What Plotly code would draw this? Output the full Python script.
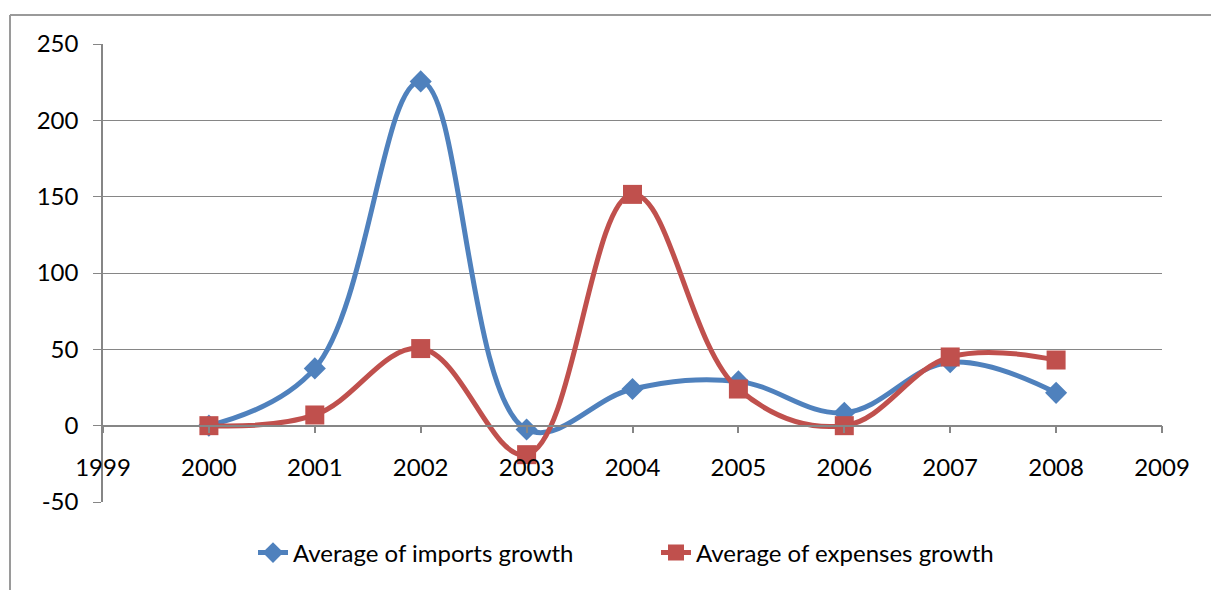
import plotly.graph_objects as go

# Yearly averages of growth
years = [2000, 2001, 2002, 2003, 2004, 2005, 2006, 2007, 2008]
imports_growth = [0, 37.5, 225.5, -2.5, 24, 29, 8.5, 41.5, 21.5]
expenses_growth = [0, 7, 50.5, -19, 151.5, 24, 0, 45, 43]

y_ticks = [-50, 0, 50, 100, 150, 200, 250]
y_tick_text = ["-50", "0", "50", "100", "150", "200", "250"]
x_ticks = list(range(1999, 2010))

BLUE = "#4F81BD"
RED = "#C0504D"
GRID = "#868686"
FONT = "Lato"
FSIZE = 24

fig = go.Figure()
fig.add_trace(go.Scatter(
    x=years, y=imports_growth, name="Average of imports growth",
    mode="lines+markers",
    line=dict(color=BLUE, width=5, shape="spline", smoothing=1.1),
    marker=dict(symbol="diamond", size=17, color=BLUE),
))
fig.add_trace(go.Scatter(
    x=years, y=expenses_growth, name="Average of expenses growth",
    mode="lines+markers",
    line=dict(color=RED, width=5, shape="spline", smoothing=1.1),
    marker=dict(symbol="square", size=19, color=RED),
))

W, H = 1211, 590
L, R, T, B = 103, 49, 44, 88
pw, ph = W - L - R, H - T - B

# outer frame: left and top edges of the chart area
fx = (10 - L) / pw
fy = (H - B - 15) / ph
fig.add_shape(type="line", xref="paper", yref="paper", x0=fx, x1=fx, y0=fy, y1=-0.3,
              line=dict(color="#9a9a9a", width=2))
fig.add_shape(type="line", xref="paper", yref="paper", x0=fx, x1=1.2, y0=fy, y1=fy,
              line=dict(color="#9a9a9a", width=2))

fig.update_layout(
    width=W, height=H,
    margin=dict(l=L, r=R, t=T, b=B),
    paper_bgcolor="white", plot_bgcolor="white",
    font=dict(family=FONT, size=FSIZE, color="black"),
    showlegend=True,
    legend=dict(orientation="h", x=(253 - L) / pw, xanchor="left",
                y=(H - B - 553) / ph, yanchor="middle",
                font=dict(family=FONT, size=FSIZE, color="black"),
                entrywidth=358, entrywidthmode="pixels"),
    xaxis=dict(range=[1999, 2009], tickvals=x_ticks, showgrid=False, zeroline=False,
               showline=True, linecolor=GRID, linewidth=1.5,
               ticks="outside", ticklen=7, tickcolor=GRID, tickwidth=1.5,
               anchor="free", position=50 / 300, ticklabelstandoff=14),
    yaxis=dict(range=[-50, 250], tickvals=y_ticks, ticktext=y_tick_text,
               showgrid=True, gridcolor=GRID,
               gridwidth=1, zeroline=False, showline=True, linecolor=GRID, linewidth=1.5,
               ticks="outside", ticklen=8, tickcolor=GRID, tickwidth=1,
               ticklabelstandoff=10),
)

fig.write_html("out.html")
